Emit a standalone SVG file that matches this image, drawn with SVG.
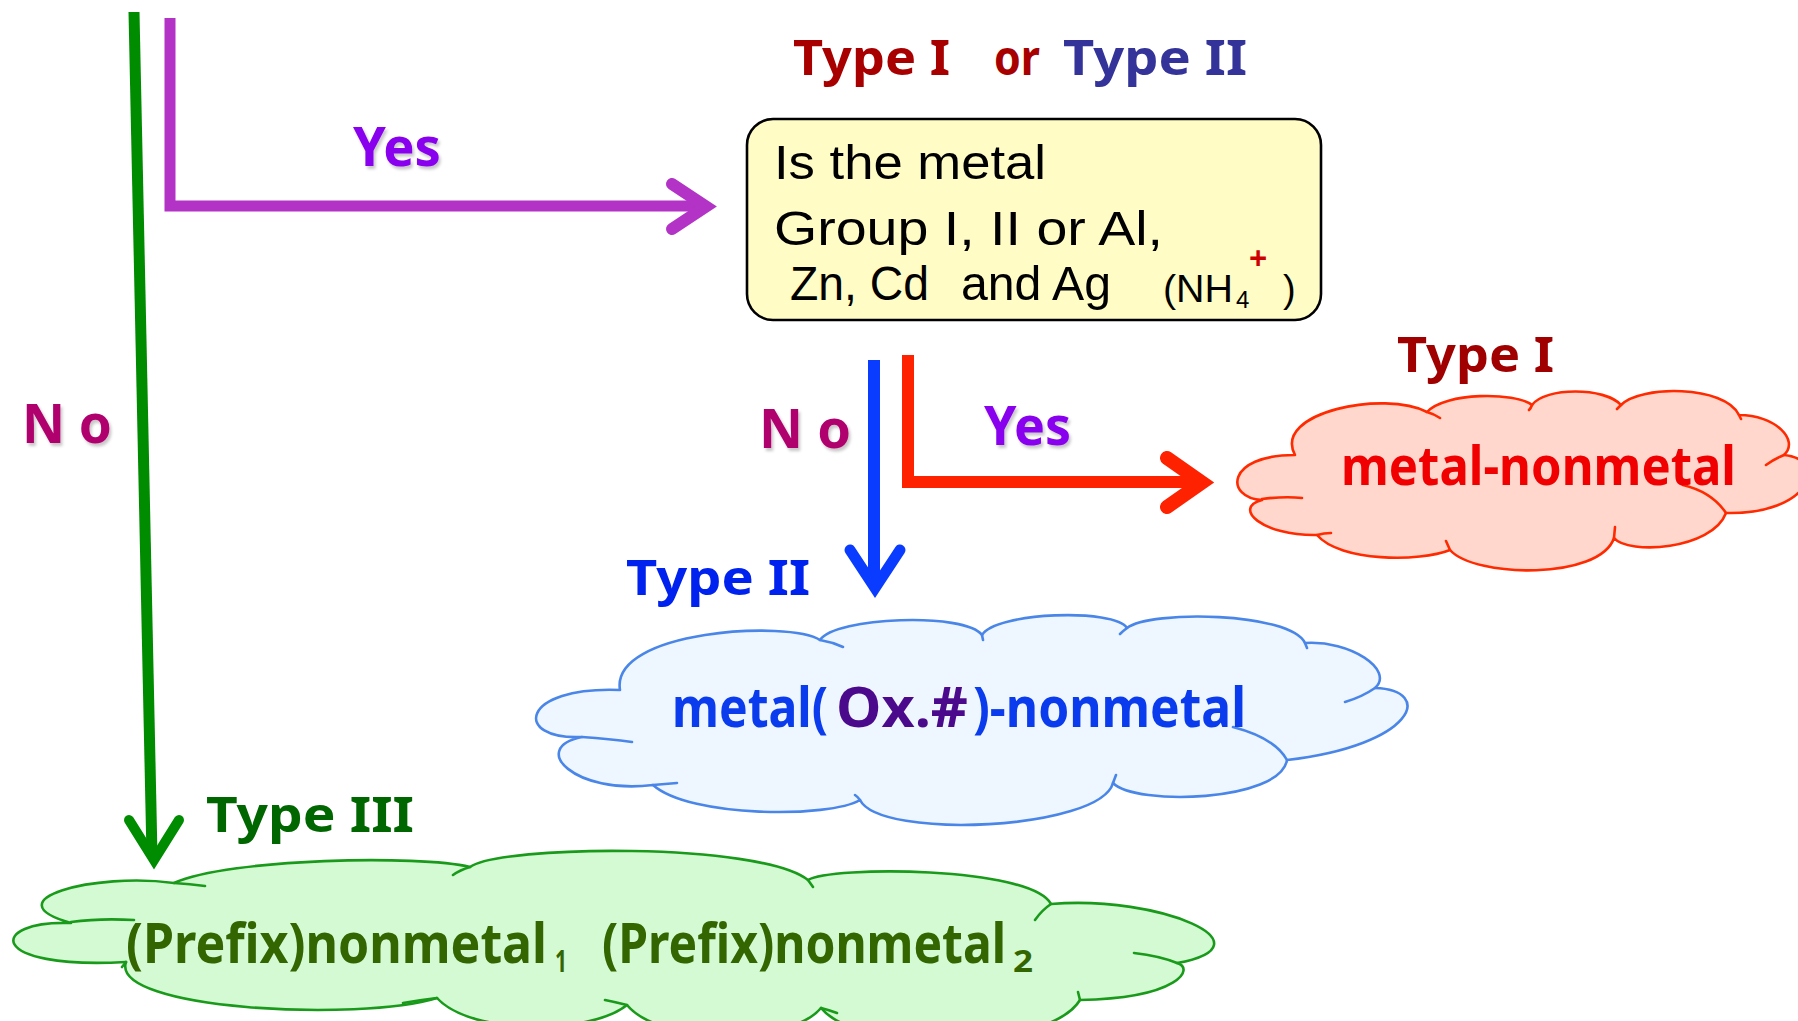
<svg xmlns="http://www.w3.org/2000/svg" width="1798" height="1021" viewBox="0 0 1798 1021">
<defs>
<style>
.lbl{font-family:"Noto Sans","DejaVu Sans",sans-serif;font-weight:bold;}
.box{font-family:"Liberation Sans",Arial,sans-serif;font-weight:normal;fill:#000;}
.cl{stroke-width:2.6;stroke-linejoin:round;}
.tick{fill:none;stroke-width:2.6;stroke-linecap:round;}
.conn{fill:none;stroke-linecap:butt;stroke-linejoin:miter;}
.head{fill:none;stroke-linecap:round;stroke-linejoin:miter;stroke-miterlimit:6;}
</style>
<filter id="sh" x="-20%" y="-20%" width="140%" height="140%">
<feDropShadow dx="2" dy="3" stdDeviation="1.5" flood-color="#000" flood-opacity="0.22"/>
</filter>
</defs>
<rect width="1798" height="1021" fill="#fff"/>

<g id="node-question">
<rect x="747" y="119" width="574" height="201" rx="26" fill="#FFFCC6" stroke="#000" stroke-width="2.6"/>
<text class="box" x="774" y="179" font-size="48" textLength="272" lengthAdjust="spacingAndGlyphs">Is the metal</text>
<text class="box" x="774" y="245" font-size="48" textLength="389" lengthAdjust="spacingAndGlyphs">Group I, II or Al,</text>
<text class="box" x="790" y="300" font-size="48" textLength="139" lengthAdjust="spacingAndGlyphs">Zn, Cd</text>
<text class="box" x="961" y="300" font-size="48" textLength="150" lengthAdjust="spacingAndGlyphs">and Ag</text>
<text class="box" x="1163" y="302" font-size="38" textLength="70" lengthAdjust="spacingAndGlyphs">(NH</text>
<text class="box" x="1236" y="308" font-size="24">4</text>
<text class="lbl" x="1249" y="270" font-size="32" fill="#CC0000">+</text>
<text class="box" x="1283" y="302" font-size="38">)</text>
</g>

<g id="label-type-top">
<text class="lbl" x="793" y="75" font-size="48" fill="#A80000" textLength="157" lengthAdjust="spacingAndGlyphs">Type I</text>
<text class="lbl" x="994" y="75" font-size="48" fill="#A80000" textLength="46" lengthAdjust="spacingAndGlyphs">or</text>
<text class="lbl" x="1063" y="75" font-size="48" fill="#333399" textLength="184" lengthAdjust="spacingAndGlyphs">Type II</text>
</g>

<g id="node-type1">
<path class="cl" fill="#FFD7CC" stroke="#FF2A00" d="M1295,455 C1272,412 1385,390 1427,412 C1445,392 1515,392 1532,405 C1545,387 1605,387 1621,405 C1640,385 1725,385 1739,415 C1775,415 1800,440 1784,455 C1830,460 1810,515 1726,513 C1712,550 1628,555 1614,538 C1600,580 1475,578 1450,550 C1420,562 1340,562 1317,535 C1262,536 1232,508 1262,500 C1225,498 1225,455 1295,455 Z"/>
<path class="tick" stroke="#FF2A00" d="M1262,499 Q1285,496 1302,498 M1317,535 Q1324,533 1331,533 M1427,412 Q1434,414 1440,418 M1532,405 Q1531,408 1529,410 M1621,405 Q1619,407 1617,409 M1739,415 L1741,419 M1784,455 Q1774,459 1766,465 M1683,485 Q1712,492 1726,513 M1614,538 L1615,527 M1450,550 L1446,541"/>
<text class="lbl" x="1341" y="485" font-size="54" fill="#F00000" textLength="395" lengthAdjust="spacingAndGlyphs">metal-nonmetal</text>
<text class="lbl" x="1397" y="372" font-size="48" fill="#A00000" textLength="157" lengthAdjust="spacingAndGlyphs">Type I</text>
</g>

<g id="node-type2">
<path class="cl" fill="#EEF6FF" stroke="#4A86E8" d="M620,690 C610,630 790,620 820,640 C835,617 965,612 982,635 C995,612 1115,608 1127,628 C1150,610 1290,612 1305,643 C1350,640 1395,670 1375,688 C1435,690 1415,745 1287,760 C1280,802 1135,806 1113,783 C1100,830 880,840 860,800 C830,818 690,818 653,785 C575,795 528,748 582,737 C512,740 520,686 620,690 Z"/>
<path class="tick" stroke="#4A86E8" d="M582,737 Q610,739 632,742 M653,785 Q665,784 677,783 M820,640 Q832,642 843,647 M982,635 L983,640 M1127,628 Q1123,631 1120,634 M1305,643 L1307,648 M1345,702 Q1362,697 1375,688 M1233,727 Q1275,738 1287,760 M1113,783 L1116,775 M860,800 Q858,797 855,795"/>
<text class="lbl" y="727" font-size="56"><tspan x="672" fill="#0A3CEE" textLength="156" lengthAdjust="spacingAndGlyphs">metal(</tspan><tspan x="836" fill="#4B0A8C" textLength="132" lengthAdjust="spacingAndGlyphs">Ox.#</tspan><tspan x="973" fill="#0A3CEE" textLength="273" lengthAdjust="spacingAndGlyphs">)-nonmetal</tspan></text>
<text class="lbl" x="626" y="595" font-size="48" fill="#0022EE" textLength="184" lengthAdjust="spacingAndGlyphs">Type II</text>
</g>

<g id="node-type3">
<path class="cl" fill="#D4FAD4" stroke="#1A9A1A" d="M71,923 C-10,900 95,872 174,883 C230,858 420,855 470,867 C500,845 760,842 808,880 C830,866 1030,866 1051,904 C1160,895 1275,945 1177,963 C1195,968 1180,998 1080,1000 C1050,1050 860,1055 821,1008 C790,1045 660,1045 627,1005 C590,1035 470,1035 437,998 C360,1022 110,1010 126,962 C-15,970 -12,920 71,923 Z"/>
<path class="tick" stroke="#1A9A1A" d="M71,922 Q100,918 134,920 M174,883 Q190,884 205,886 M470,867 Q460,870 453,875 M808,880 L813,887 M1051,904 Q1042,910 1035,920 M1134,953 Q1160,956 1177,963 M1080,1000 L1078,992 M821,1008 Q829,1010 837,1013 M627,1005 Q615,1002 605,1000 M437,998 Q420,1000 403,1003 M126,962 L122,967"/>
<text class="lbl" font-size="56" fill="#336600"><tspan x="126" y="963" textLength="421" lengthAdjust="spacingAndGlyphs">(Prefix)nonmetal</tspan><tspan x="555" y="972" font-size="30" textLength="12" lengthAdjust="spacingAndGlyphs">1</tspan><tspan x="602" y="963" textLength="404" lengthAdjust="spacingAndGlyphs">(Prefix)nonmetal</tspan><tspan x="1013" y="972" font-size="30" textLength="20" lengthAdjust="spacingAndGlyphs">2</tspan></text>
<text class="lbl" x="206" y="832" font-size="48" fill="#006600" textLength="208" lengthAdjust="spacingAndGlyphs">Type III</text>
</g>

<g id="connectors">
<path class="conn" stroke="#008C00" stroke-width="11" d="M134,12 L152,856"/>
<path class="head" stroke="#008C00" stroke-width="10" d="M129,820 L154,860 L179,820"/>
<path class="conn" stroke="#B233C6" stroke-width="11" d="M170,18 L170,206 L706,206"/>
<path class="head" stroke="#B233C6" stroke-width="12" d="M672,184 L706,206.5 L672,229"/>
<path class="conn" stroke="#0A3CFF" stroke-width="12" d="M874,360 L874,586"/>
<path class="head" stroke="#0A3CFF" stroke-width="11" d="M850,550 L875,588 L900,550"/>
<path class="conn" stroke="#FF2200" stroke-width="12" d="M908,355 L908,482 L1200,482"/>
<path class="head" stroke="#FF2200" stroke-width="14" d="M1167,458 L1202,482.5 L1167,507"/>
</g>

<g id="connector-labels">
<text class="lbl" x="353" y="166" font-size="54" fill="#8800EE" filter="url(#sh)" textLength="88" lengthAdjust="spacingAndGlyphs">Yes</text>
<text class="lbl" x="22" y="443" font-size="54" fill="#B0006E" filter="url(#sh)" textLength="90" lengthAdjust="spacingAndGlyphs">N o</text>
<text class="lbl" x="759" y="448" font-size="54" fill="#B0006E" filter="url(#sh)" textLength="92" lengthAdjust="spacingAndGlyphs">N o</text>
<text class="lbl" x="984" y="445" font-size="54" fill="#8800EE" filter="url(#sh)" textLength="87" lengthAdjust="spacingAndGlyphs">Yes</text>
</g>
</svg>
